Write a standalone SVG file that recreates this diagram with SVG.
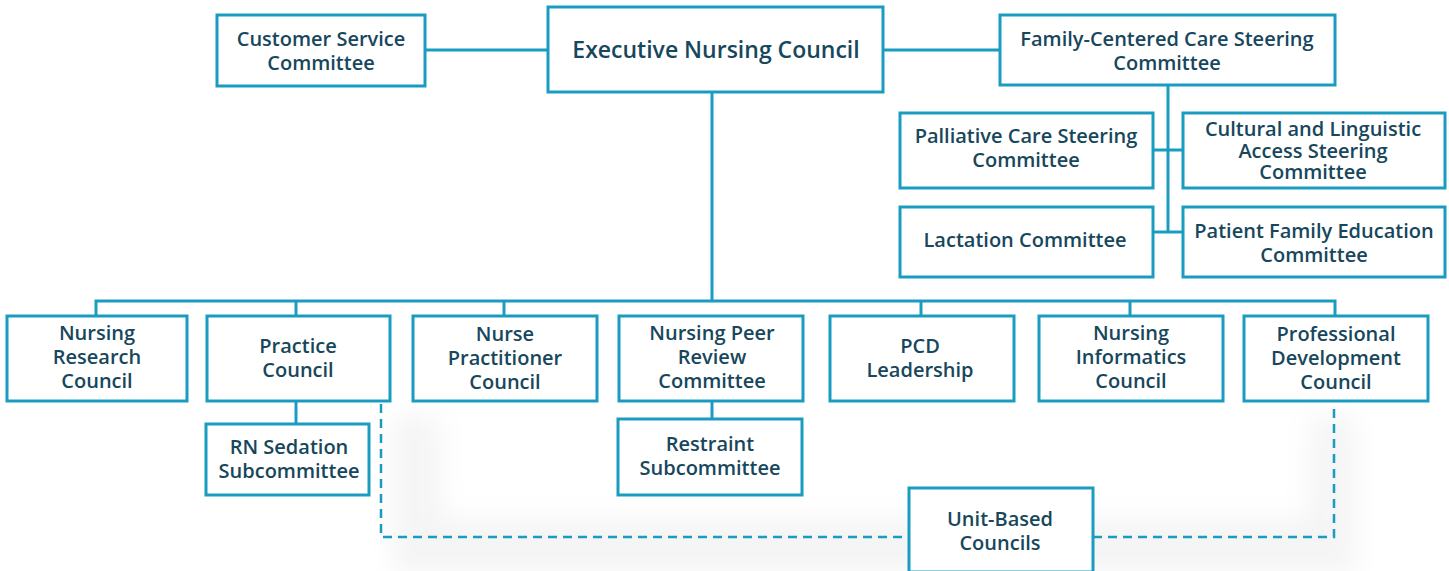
<svg xmlns="http://www.w3.org/2000/svg" width="1449" height="571" viewBox="0 0 1449 571">
  <style>
    .box { fill: #ffffff; stroke: #1a9cc0; stroke-width: 3; }
    .line { fill: none; stroke: #1a9cc0; stroke-width: 3; }
    .dash { fill: none; stroke: #1a9cc0; stroke-width: 2.5; stroke-dasharray: 9 6; }
    text { font-family: "Open Sans", "Liberation Sans", sans-serif; font-weight: 600; font-size: 20px; fill: #17475c; text-anchor: middle; }
    .big { font-size: 23px; }
  </style>
  <defs>
    <filter id="soft" x="-20%" y="-30%" width="140%" height="160%">
      <feGaussianBlur stdDeviation="14"/>
    </filter>
  </defs>
  <rect width="1449" height="571" fill="#ffffff"/>
  <!-- faint card shadow behind the unit-based area -->
  <rect x="392" y="415" width="965" height="160" fill="#000" opacity="0.04" filter="url(#soft)"/>
  <rect x="440" y="380" width="870" height="140" fill="#ffffff" filter="url(#soft)"/>

  <g id="connectors">
    <line class="line" x1="425" y1="50" x2="548" y2="50"/>
    <line class="line" x1="883" y1="50" x2="1000" y2="50"/>
    <line class="line" x1="1168" y1="85" x2="1168" y2="232"/>
    <line class="line" x1="1153" y1="150" x2="1183" y2="150"/>
    <line class="line" x1="1153" y1="232" x2="1183" y2="232"/>
    <line class="line" x1="712" y1="92" x2="712" y2="301"/>
    <polyline class="line" points="96,316 96,301 1335,301 1335,316"/>
    <line class="line" x1="296" y1="301" x2="296" y2="316"/>
    <line class="line" x1="504" y1="301" x2="504" y2="316"/>
    <line class="line" x1="921" y1="301" x2="921" y2="316"/>
    <line class="line" x1="1130" y1="301" x2="1130" y2="316"/>
    <line class="line" x1="296" y1="401" x2="296" y2="424"/>
    <line class="line" x1="712" y1="401" x2="712" y2="419"/>
    <polyline class="dash" points="381,404 381,537 909,537"/>
    <polyline class="dash" points="1093,537 1334,537 1334,405"/>
  </g>

  <g id="executive-nursing-council">
    <rect class="box" x="548" y="7" width="335" height="85"/>
    <text class="big" x="716" y="58">Executive Nursing Council</text>
  </g>
  <g id="customer-service-committee">
    <rect class="box" x="217" y="15" width="208" height="71"/>
    <text x="321" y="46">Customer Service</text>
    <text x="321" y="70">Committee</text>
  </g>
  <g id="family-centered-care">
    <rect class="box" x="1000" y="15" width="335" height="70"/>
    <text x="1167" y="46">Family-Centered Care Steering</text>
    <text x="1167" y="70">Committee</text>
  </g>
  <g id="palliative-care">
    <rect class="box" x="900" y="113" width="253" height="75"/>
    <text x="1026" y="143">Palliative Care Steering</text>
    <text x="1026" y="167">Committee</text>
  </g>
  <g id="cultural-linguistic">
    <rect class="box" x="1183" y="113" width="262" height="75"/>
    <text x="1313" y="136">Cultural and Linguistic</text>
    <text x="1313" y="158">Access Steering</text>
    <text x="1313" y="179">Committee</text>
  </g>
  <g id="lactation">
    <rect class="box" x="900" y="207" width="253" height="70"/>
    <text x="1025" y="247">Lactation Committee</text>
  </g>
  <g id="patient-family-education">
    <rect class="box" x="1183" y="207" width="262" height="70"/>
    <text x="1314" y="238">Patient Family Education</text>
    <text x="1314" y="262">Committee</text>
  </g>

  <g id="nursing-research-council">
    <rect class="box" x="7" y="316" width="180" height="85"/>
    <text x="97" y="340">Nursing</text>
    <text x="97" y="364">Research</text>
    <text x="97" y="388">Council</text>
  </g>
  <g id="practice-council">
    <rect class="box" x="207" y="316" width="183" height="85"/>
    <text x="298" y="353">Practice</text>
    <text x="298" y="377">Council</text>
  </g>
  <g id="nurse-practitioner-council">
    <rect class="box" x="413" y="316" width="184" height="85"/>
    <text x="505" y="341">Nurse</text>
    <text x="505" y="365">Practitioner</text>
    <text x="505" y="389">Council</text>
  </g>
  <g id="nursing-peer-review">
    <rect class="box" x="619" y="316" width="184" height="85"/>
    <text x="712" y="340">Nursing Peer</text>
    <text x="712" y="364">Review</text>
    <text x="712" y="388">Committee</text>
  </g>
  <g id="pcd-leadership">
    <rect class="box" x="830" y="316" width="184" height="85"/>
    <text x="920" y="353">PCD</text>
    <text x="920" y="377">Leadership</text>
  </g>
  <g id="nursing-informatics">
    <rect class="box" x="1039" y="316" width="184" height="85"/>
    <text x="1131" y="340">Nursing</text>
    <text x="1131" y="364">Informatics</text>
    <text x="1131" y="388">Council</text>
  </g>
  <g id="professional-development">
    <rect class="box" x="1244" y="316" width="184" height="85"/>
    <text x="1336" y="341">Professional</text>
    <text x="1336" y="365">Development</text>
    <text x="1336" y="389">Council</text>
  </g>
  <g id="rn-sedation">
    <rect class="box" x="206" y="424" width="163" height="71"/>
    <text x="289" y="454">RN Sedation</text>
    <text x="289" y="478">Subcommittee</text>
  </g>
  <g id="restraint">
    <rect class="box" x="618" y="419" width="184" height="76"/>
    <text x="710" y="451">Restraint</text>
    <text x="710" y="475">Subcommittee</text>
  </g>
  <g id="unit-based-councils">
    <rect class="box" x="909" y="488" width="184" height="84"/>
    <text x="1000" y="526">Unit-Based</text>
    <text x="1000" y="550">Councils</text>
  </g>
</svg>
